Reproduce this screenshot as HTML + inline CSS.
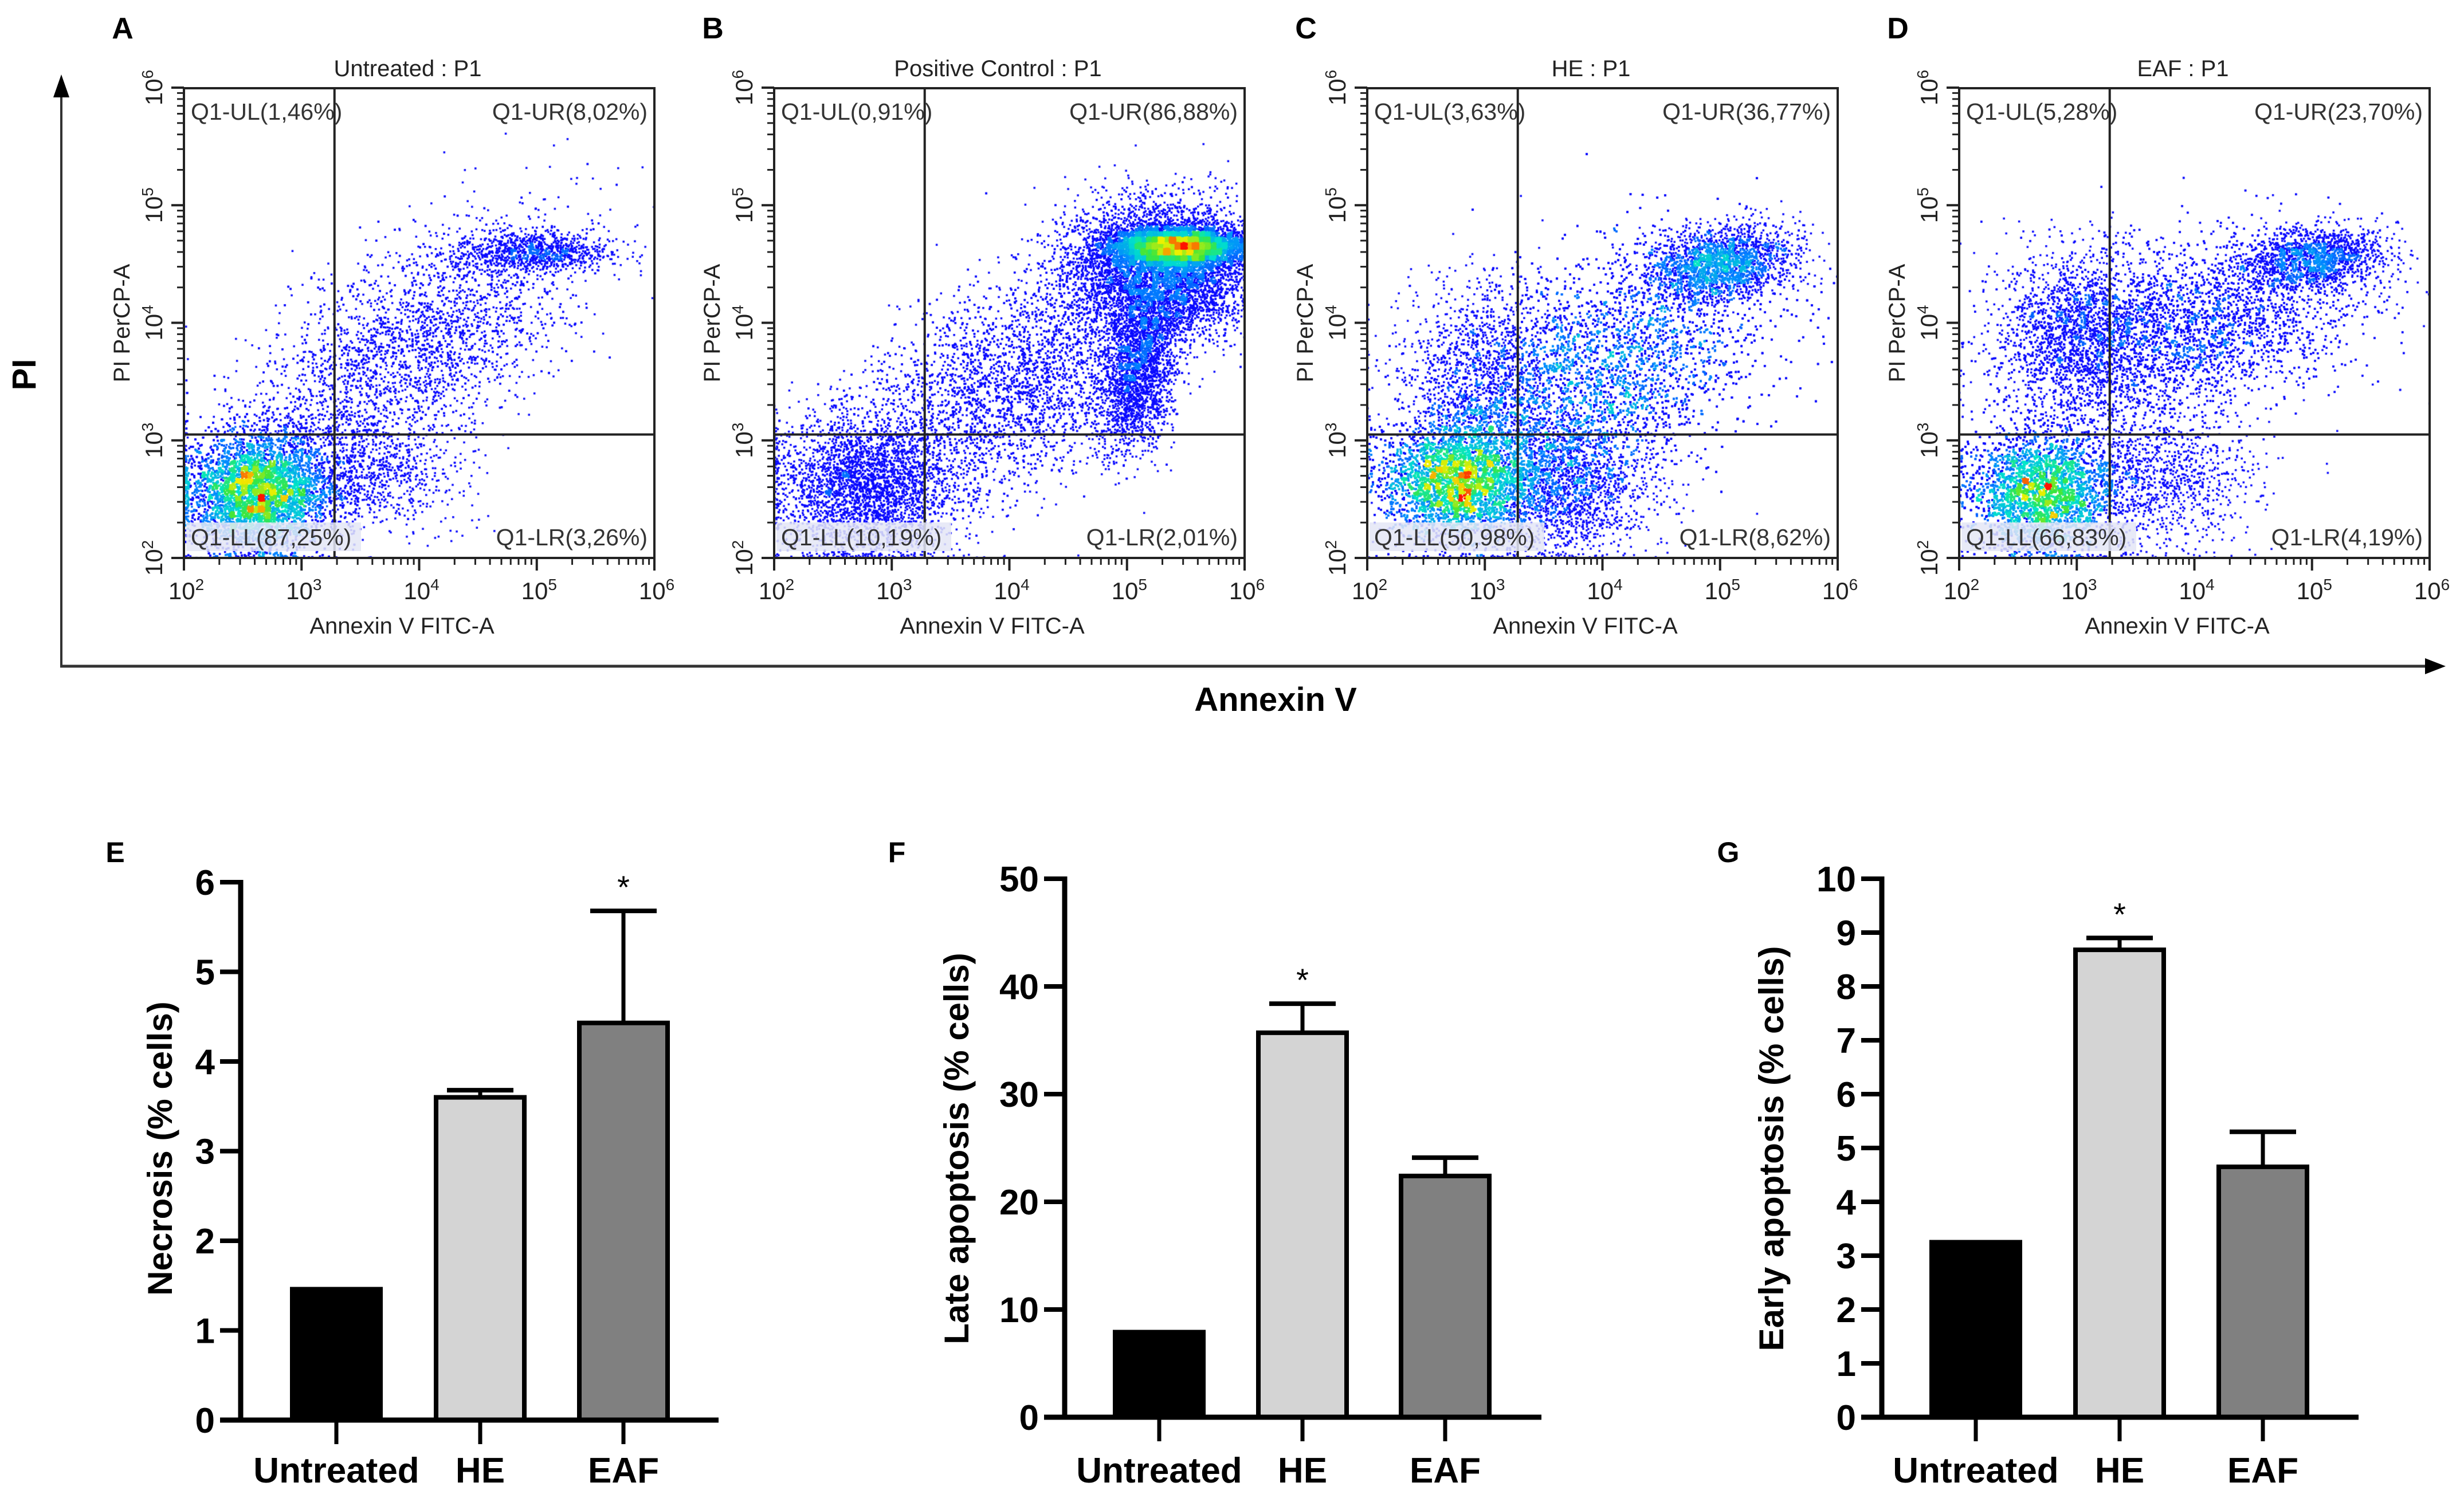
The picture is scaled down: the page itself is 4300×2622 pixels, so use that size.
<!DOCTYPE html>
<html><head><meta charset="utf-8">
<style>
html,body{margin:0;padding:0;background:#fff;}
#root{position:relative;width:4300px;height:2622px;overflow:hidden;background:#fff;font-family:"Liberation Sans",Arial,sans-serif;}
canvas{position:absolute;}
svg{position:absolute;left:0;top:0;}
</style></head>
<body>
<div id="root">
<canvas id="cvA" width="821" height="820" style="left:321px;top:154px"></canvas>
<canvas id="cvB" width="821" height="820" style="left:1351px;top:154px"></canvas>
<canvas id="cvC" width="821" height="820" style="left:2386px;top:154px"></canvas>
<canvas id="cvD" width="821" height="820" style="left:3419px;top:154px"></canvas>
<svg id="svg" width="4300" height="2622" xmlns="http://www.w3.org/2000/svg"></svg>
</div>
<script>
// ---------- Bar chart data ----------
const barCategories = ["Untreated","HE","EAF"];
const necrosisValues = [1.46, 3.60, 4.43];
const necrosisErrors = [0, 0.08, 1.25];
const lateValues = [7.9, 35.7, 22.4];
const lateErrors = [0, 2.7, 1.7];
const earlyValues = [3.25, 8.68, 4.65];
const earlyErrors = [0, 0.22, 0.65];
const necrosisTicks = [0,1,2,3,4,5,6];
const lateTicks = [0,10,20,30,40,50];
const earlyTicks = [0,1,2,3,4,5,6,7,8,9,10];
const barFills = ["#000000","#d4d4d4","#808080"];
const starIndexE = 2, starIndexF = 1, starIndexG = 1;

// ---------- Flow cytometry data ----------
const flowTitles = ["Untreated : P1","Positive Control : P1","HE : P1","EAF : P1"];
const flowLetters = ["A","B","C","D"];
const quadUL = ["Q1-UL(1,46%)","Q1-UL(0,91%)","Q1-UL(3,63%)","Q1-UL(5,28%)"];
const quadUR = ["Q1-UR(8,02%)","Q1-UR(86,88%)","Q1-UR(36,77%)","Q1-UR(23,70%)"];
const quadLL = ["Q1-LL(87,25%)","Q1-LL(10,19%)","Q1-LL(50,98%)","Q1-LL(66,83%)"];
const quadLR = ["Q1-LR(3,26%)","Q1-LR(2,01%)","Q1-LR(8,62%)","Q1-LR(4,19%)"];
const gateX = [3.28, 3.28, 3.28, 3.28];
const gateY = [3.05, 3.05, 3.05, 3.05];
// clusters: [log x center, log y center, sd major, sd minor, angle deg, count]
const clustersA = [[2.62,2.55,0.30,0.24,0,11000],[3.9,3.75,0.85,0.38,33,3400],[4.95,4.6,0.33,0.09,0,900],[3.55,2.75,0.40,0.25,0,900]];
const clustersB = [[5.45,4.65,0.28,0.08,0,5500],[5.3,4.45,0.40,0.28,0,6000],[5.1,3.6,0.35,0.15,80,2200],[4.0,3.45,0.75,0.40,30,4200],[2.75,2.6,0.38,0.30,0,2800]];
const clustersC = [[2.75,2.65,0.30,0.25,0,9000],[4.0,3.6,0.75,0.45,25,9000],[5.0,4.5,0.30,0.15,10,2200],[3.6,2.65,0.40,0.30,0,2200],[3.0,3.55,0.35,0.40,0,1300]];
const clustersD = [[2.7,2.55,0.30,0.25,0,10000],[3.9,3.95,0.75,0.35,12,5500],[5.0,4.55,0.30,0.12,5,1600],[3.7,2.7,0.40,0.30,0,1100],[3.0,3.9,0.30,0.35,0,1500]];
const allClusters = [clustersA, clustersB, clustersC, clustersD];

const plotLeft = [321,1351,2386,3419];
const plotTop = 154, plotW = 821, plotH = 820;

const NS = "http://www.w3.org/2000/svg";
const svg = document.getElementById("svg");
function mk(tag, attrs, parent){ const e=document.createElementNS(NS,tag); for(const k in attrs) e.setAttribute(k,attrs[k]); (parent||svg).appendChild(e); return e; }

let seed = 12345;
function rnd(){ seed = (seed*1103515245+12345) & 0x7fffffff; return seed/0x7fffffff; }
function gauss(){ let u=rnd()||1e-9, v=rnd(); return Math.sqrt(-2*Math.log(u))*Math.cos(2*Math.PI*v); }

function colorFor(t){
  const stops=[[0,[0,0,255]],[0.3,[0,140,255]],[0.5,[0,230,200]],[0.65,[60,230,60]],[0.82,[240,240,0]],[1,[255,20,0]]];
  for(let i=1;i<stops.length;i++){ if(t<=stops[i][0]){ const a=stops[i-1],b=stops[i]; const f=(t-a[0])/(b[0]-a[0]); return `rgb(${Math.round(a[1][0]+(b[1][0]-a[1][0])*f)},${Math.round(a[1][1]+(b[1][1]-a[1][1])*f)},${Math.round(a[1][2]+(b[1][2]-a[1][2])*f)})`; } }
  return "rgb(255,20,0)";
}

function drawScatter(idx){
  const cv = document.getElementById("cv"+"ABCD"[idx]);
  const ctx = cv.getContext("2d");
  const dec = plotW/4;
  const pts=[];
  allClusters[idx].forEach(c=>{
    const a=c[4]*Math.PI/180, ca=Math.cos(a), sa=Math.sin(a);
    for(let i=0;i<c[5];i++){
      const u=gauss()*c[2], v=gauss()*c[3];
      let lx=c[0]+u*ca-v*sa, ly=c[1]+u*sa+v*ca;
      if(lx<2) lx=2+rnd()*0.04; if(ly<2) ly=2+rnd()*0.04;
      if(lx>6||ly>6) continue;
      pts.push([(lx-2)*dec, plotH-(ly-2)*dec]);
    }
  });
  const B=10, gw=Math.ceil(plotW/B), gh=Math.ceil(plotH/B);
  const grid=new Float32Array(gw*gh);
  const cell=p=>Math.min(gh-1,Math.floor(p[1]/B))*gw+Math.min(gw-1,Math.floor(p[0]/B));
  pts.forEach(p=>{ grid[cell(p)]++; });
  let mx=0; for(const g of grid) if(g>mx) mx=g;
  pts.sort((p,q)=>grid[cell(p)]-grid[cell(q)]);
  pts.forEach(p=>{
    const t=Math.pow(grid[cell(p)]/mx,0.8);
    ctx.fillStyle = t<0.2 ? "rgb(10,10,255)" : colorFor(t);
    ctx.fillRect(p[0]-1.5,p[1]-1.5,3.5,3.5);
  });
}

function supText(parent, x, y, exp, attrs){
  const t = mk("text", Object.assign({x:x,y:y,"text-anchor":"middle","font-size":42,fill:"#222"},attrs||{}), parent);
  t.appendChild(document.createTextNode("10"));
  const s = mk("tspan",{dy:-16,"font-size":28},t); s.textContent=exp;
  return t;
}

function drawFlowFrame(idx){
  const L=plotLeft[idx], T=plotTop, R=L+plotW, Bt=T+plotH, dec=plotW/4;
  const g = mk("g",{});
  
  
  const lt = mk("text",{x:L-107,y:67,"text-anchor":"middle","font-size":52,"font-weight":"bold",fill:"#000"},g);
  lt.textContent=flowLetters[idx];
  
  
  const ti = mk("text",{x:L+plotW/2-20,y:133,"text-anchor":"middle","font-size":40,fill:"#222"},g);
  ti.textContent=flowTitles[idx];
  
  
  mk("rect",{x:L,y:T,width:plotW,height:plotH,fill:"none",stroke:"#222","stroke-width":4},g);
  const gx=L+(gateX[idx]-2)*dec, gy=Bt-(gateY[idx]-2)*dec;
  const vl=mk("line",{x1:gx,y1:T,x2:gx,y2:Bt,stroke:"#222","stroke-width":4},g);
  
  
  const hl=mk("line",{x1:L,y1:gy,x2:R,y2:gy,stroke:"#222","stroke-width":4},g);
  
  
  for(let d=2; d<=6; d++){
    const x=L+(d-2)*dec, y=Bt-(d-2)*dec;
    mk("line",{x1:x,y1:Bt,x2:x,y2:Bt+22,stroke:"#222","stroke-width":4},g);
    mk("line",{x1:L,y1:y,x2:L-22,y2:y,stroke:"#222","stroke-width":4},g);
    const xt=supText(g,x+4,Bt+72,String(d));
    
    
    const yt=supText(g,0,0,String(d),{transform:`translate(${L-38},${y}) rotate(-90)`});
    
    
    if(d<6){ for(let k=2;k<=9;k++){ const o=Math.log10(k)*dec;
      mk("line",{x1:x+o,y1:Bt,x2:x+o,y2:Bt+12,stroke:"#222","stroke-width":3},g);
      mk("line",{x1:L,y1:y-o,x2:L-12,y2:y-o,stroke:"#222","stroke-width":3},g);} }
  }
  const xa=mk("text",{x:L+plotW/2-30,y:1106,"text-anchor":"middle","font-size":40,fill:"#222"},g);
  xa.textContent="Annexin V FITC-A";
  
  
  const ya=mk("text",{x:0,y:0,"text-anchor":"middle","font-size":40,fill:"#222",transform:`translate(${L-95},${T+410}) rotate(-90)`},g);
  ya.textContent="PI PerCP-A";
  
  
  const ul=mk("text",{x:L+12,y:T+55,"font-size":41,fill:"#333"},g); ul.textContent=quadUL[idx];
  
  
  const ur=mk("text",{x:R-12,y:T+55,"text-anchor":"end","font-size":41,fill:"#333"},g); ur.textContent=quadUR[idx];
  
  
  mk("rect",{x:L+4,y:Bt-62,width:305,height:50,fill:"#e4e6f6","fill-opacity":0.85},g);
  const ll=mk("text",{x:L+12,y:Bt-22,"font-size":41,fill:"#333"},g); ll.textContent=quadLL[idx];
  
  
  const lr=mk("text",{x:R-12,y:Bt-22,"text-anchor":"end","font-size":41,fill:"#333"},g); lr.textContent=quadLR[idx];
  
  
}

for(let i=0;i<4;i++){ drawScatter(i); drawFlowFrame(i); }

const bigAx = mk("g",{});


mk("line",{x1:107,y1:160,x2:107,y2:1165,stroke:"#333","stroke-width":4},bigAx);
mk("polygon",{points:"107,130 93,170 121,170",fill:"#000"},bigAx);
mk("line",{x1:105,y1:1163,x2:4240,y2:1163,stroke:"#333","stroke-width":5},bigAx);
mk("polygon",{points:"4268,1163 4232,1149 4232,1177",fill:"#000"},bigAx);
const piT=mk("text",{x:0,y:0,"text-anchor":"middle","font-size":58,"font-weight":"bold",fill:"#000",transform:"translate(62,654) rotate(-90)"},bigAx);
piT.textContent="PI";


const anT=mk("text",{x:2226,y:1241,"text-anchor":"middle","font-size":58,"font-weight":"bold",fill:"#000"},bigAx);
anT.textContent="Annexin V";



function drawBars(cfg){
  const g=mk("g",{});
  
  
  const ymax=cfg.ticks[cfg.ticks.length-1];
  const ys=v=>cfg.y0-(v/ymax)*(cfg.y0-cfg.yTop);
  const lt=mk("text",{x:cfg.letterX,y:1505,"text-anchor":"middle","font-size":50,"font-weight":"bold",fill:"#000"},g);
  lt.textContent=cfg.letter;
  
  
  cfg.values.forEach((v,i)=>{
    const x0=cfg.barX[i], w=cfg.barW, top=ys(v);
    const r=mk("rect",{x:x0+4,y:top,width:w-8,height:cfg.y0-top,fill:barFills[i],stroke:"#000","stroke-width":8},g);
    
    
    const cx=x0+w/2;
    if(cfg.errors[i]>0){
      const ey=ys(v+cfg.errors[i]);
      const el=mk("line",{x1:cx,y1:top,x2:cx,y2:ey,stroke:"#000","stroke-width":7},g);
      
      
      mk("line",{x1:cx-58,y1:ey,x2:cx+58,y2:ey,stroke:"#000","stroke-width":8},g);
    }
    if(i===cfg.star){
      const st=mk("text",{x:cx,y:ys(v+cfg.errors[i])-22,"text-anchor":"middle","font-size":56,fill:"#000"},g);
      st.textContent="*";
      
      
    }
    mk("line",{x1:cx,y1:cfg.y0,x2:cx,y2:cfg.y0+42,stroke:"#000","stroke-width":7},g);
    const cl=mk("text",{x:cx,y:2588,"text-anchor":"middle","font-size":62,"font-weight":"bold",fill:"#000"},g);
    cl.textContent=barCategories[i];
    
    
  });
  mk("line",{x1:cfg.axisX,y1:cfg.yTop-4,x2:cfg.axisX,y2:cfg.y0+4,stroke:"#000","stroke-width":9},g);
  mk("line",{x1:cfg.axisX-36,y1:cfg.y0,x2:cfg.xEnd,y2:cfg.y0,stroke:"#000","stroke-width":9},g);
  cfg.ticks.forEach(t=>{
    const y=ys(t);
    mk("line",{x1:cfg.axisX-36,y1:y,x2:cfg.axisX,y2:y,stroke:"#000","stroke-width":8},g);
    const tl=mk("text",{x:cfg.axisX-45,y:y+22,"text-anchor":"end","font-size":62,"font-weight":"bold",fill:"#000"},g);
    tl.textContent=String(t);
    
    
  });
  const yt=mk("text",{x:0,y:0,"text-anchor":"middle","font-size":60,"font-weight":"bold",fill:"#000",transform:`translate(${cfg.titleX},2005) rotate(-90)`},g);
  yt.textContent=cfg.title;
  
  
}
drawBars({name:"necrosis-chart",letter:"E",letterX:201,values:necrosisValues,errors:necrosisErrors,ticks:necrosisTicks,star:starIndexE,
  axisX:420,y0:2479,yTop:1540,xEnd:1254,barX:[506,757,1007],barW:162,titleX:300,title:"Necrosis (% cells)"});
drawBars({name:"late-apoptosis-chart",letter:"F",letterX:1565,values:lateValues,errors:lateErrors,ticks:lateTicks,star:starIndexF,
  axisX:1858,y0:2474,yTop:1534,xEnd:2690,barX:[1942,2192,2441],barW:162,titleX:1690,title:"Late apoptosis (% cells)"});
drawBars({name:"early-apoptosis-chart",letter:"G",letterX:3016,values:earlyValues,errors:earlyErrors,ticks:earlyTicks,star:starIndexG,
  axisX:3284,y0:2474,yTop:1534,xEnd:4116,barX:[3367,3618,3868],barW:162,titleX:3112,title:"Early apoptosis (% cells)"});
</script>
</body></html>
